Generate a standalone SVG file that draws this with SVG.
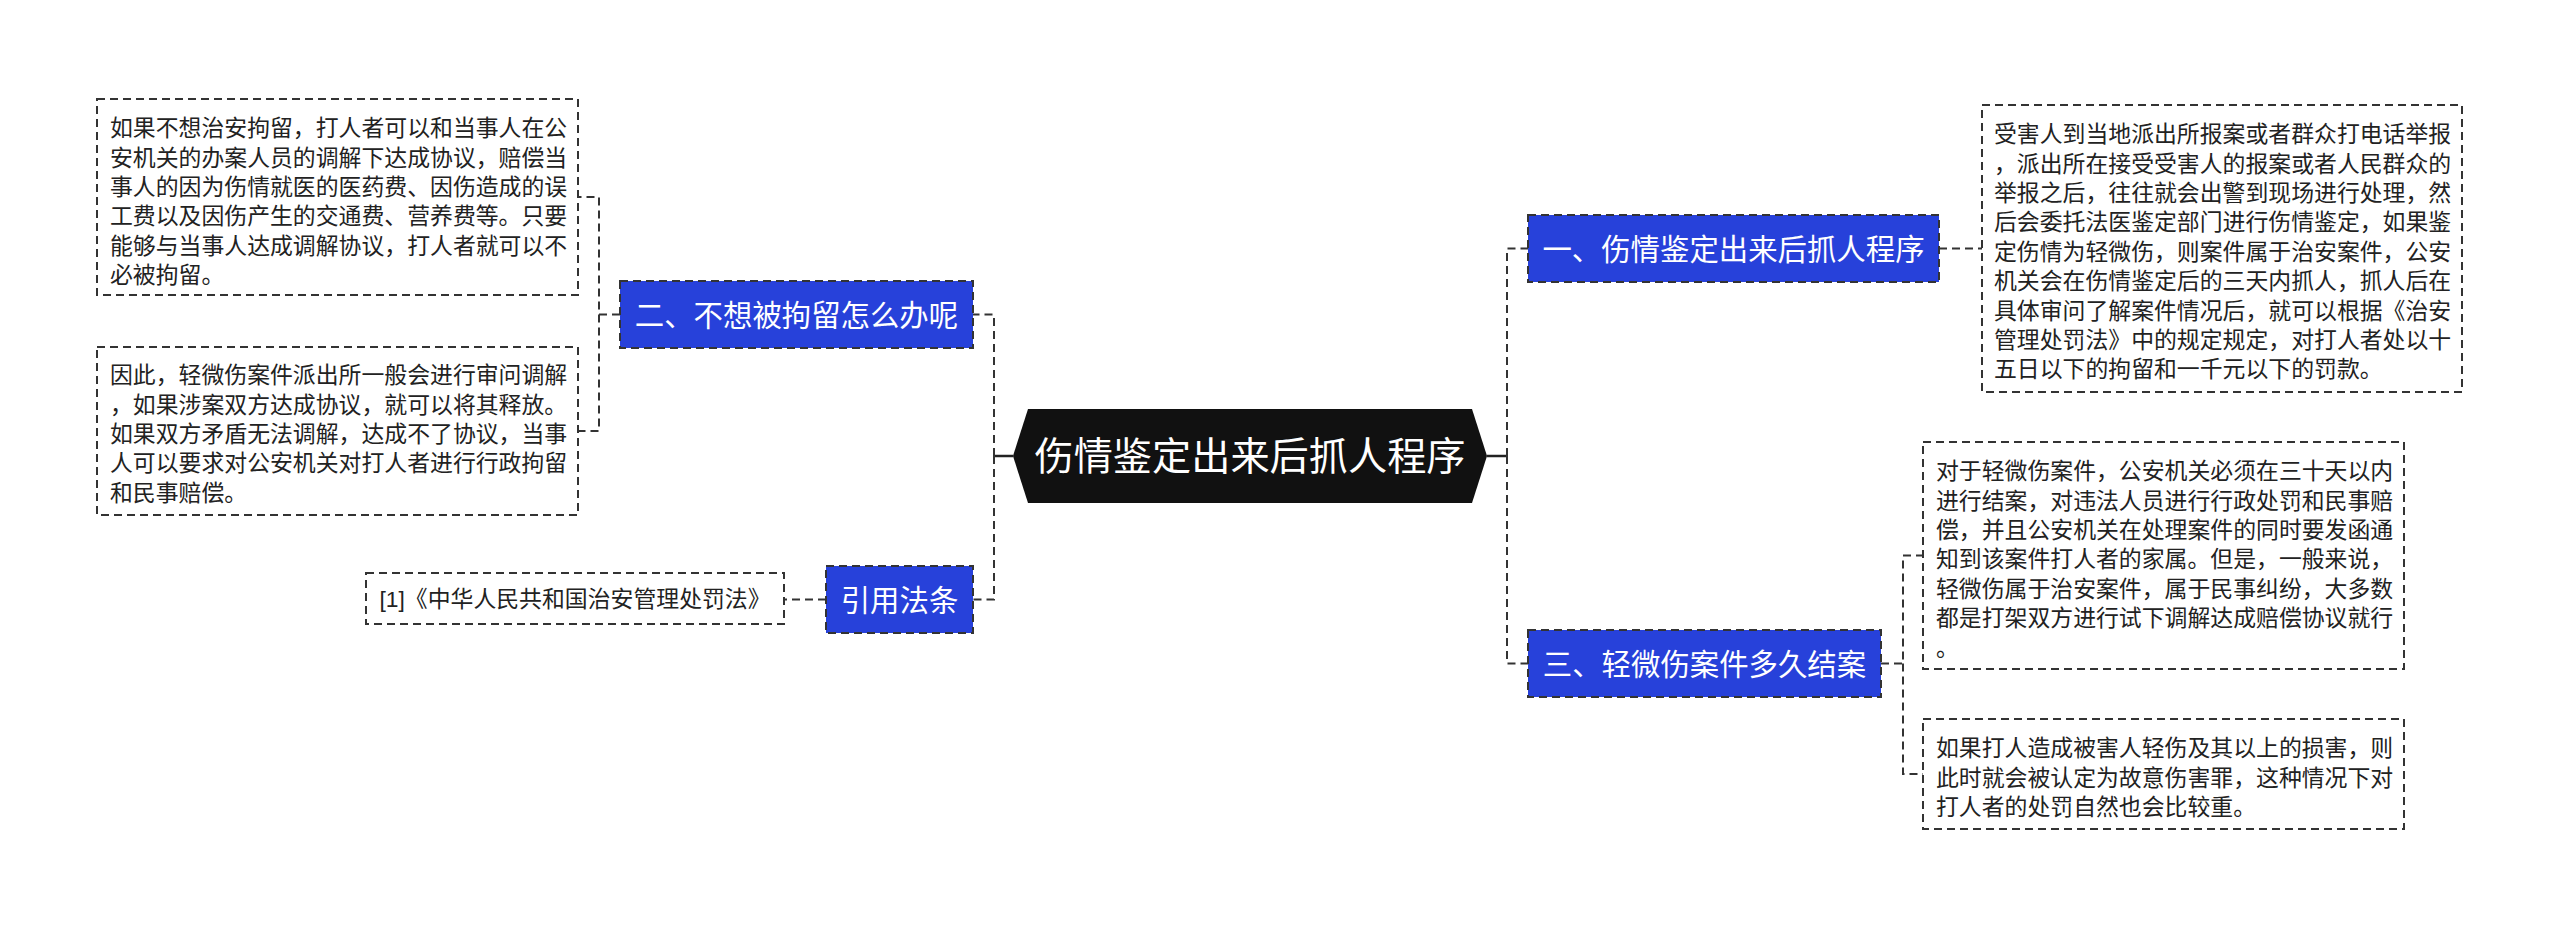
<svg xmlns="http://www.w3.org/2000/svg" width="2560" height="928" viewBox="0 0 2560 928">
<style>
text{font-family:"Liberation Sans","Noto Sans CJK SC",sans-serif;}
.conn{fill:none;stroke:#333;stroke-width:2;stroke-dasharray:8 5;}
.stub{fill:none;stroke:#222;stroke-width:2.5;}
.leaf{fill:#fff;stroke:#333;stroke-width:2;stroke-dasharray:8 5;}
.leaf-t{font-size:22.86px;fill:#222;}
.blue{fill:#2741DA;stroke:#333;stroke-width:2;stroke-dasharray:8 5;}
.blue-t{font-size:29.4px;fill:#fff;text-anchor:middle;}
.root-t{font-size:39.2px;fill:#fff;text-anchor:middle;}
</style>
<rect width="2560" height="928" fill="#fff"/>
<g id="connectors">
<line class="stub" x1="1013" y1="456" x2="994" y2="456"/>
<line class="stub" x1="1487" y1="456" x2="1507" y2="456"/>
<path class="conn" d="M994,456 V314.5 H973"/>
<path class="conn" d="M994,456 V599.5 H973"/>
<path class="conn" d="M1507,456 V248.5 H1528"/>
<path class="conn" d="M1507,456 V663.5 H1528"/>
<path class="conn" d="M620,314.5 H599 V197 H578"/>
<path class="conn" d="M599,314.5 V431 H578"/>
<path class="conn" d="M826,599.5 H784"/>
<path class="conn" d="M1939,248.5 H1982"/>
<path class="conn" d="M1881,663.5 H1903 V555.5 H1923"/>
<path class="conn" d="M1903,663.5 V774 H1923"/>
</g>
<g id="root">
<polygon points="1028,409 1472,409 1487,456 1472,503 1028,503 1013,456" fill="#111"/>
<text class="root-t" x="1250" y="470">伤情鉴定出来后抓人程序</text>
</g>
<g id="node-two">
<rect class="blue" x="620" y="281" width="353" height="67"/>
<text class="blue-t" x="796.5" y="325.5">二、不想被拘留怎么办呢</text>
</g>
<g id="node-two-a">
<rect class="leaf" x="97" y="99" width="481" height="196"/>
<text class="leaf-t" x="110" y="136.2">如果不想治安拘留，打人者可以和当事人在公</text>
<text class="leaf-t" x="110" y="165.6">安机关的办案人员的调解下达成协议，赔偿当</text>
<text class="leaf-t" x="110" y="195">事人的因为伤情就医的医药费、因伤造成的误</text>
<text class="leaf-t" x="110" y="224.4">工费以及因伤产生的交通费、营养费等。只要</text>
<text class="leaf-t" x="110" y="253.8">能够与当事人达成调解协议，打人者就可以不</text>
<text class="leaf-t" x="110" y="283.2">必被拘留。</text>
</g>
<g id="node-two-b">
<rect class="leaf" x="97" y="347" width="481" height="168"/>
<text class="leaf-t" x="110" y="383.2">因此，轻微伤案件派出所一般会进行审问调解</text>
<text class="leaf-t" x="110" y="412.6">，如果涉案双方达成协议，就可以将其释放。</text>
<text class="leaf-t" x="110" y="442">如果双方矛盾无法调解，达成不了协议，当事</text>
<text class="leaf-t" x="110" y="471.4">人可以要求对公安机关对打人者进行行政拘留</text>
<text class="leaf-t" x="110" y="500.8">和民事赔偿。</text>
</g>
<g id="node-law">
<rect class="blue" x="826" y="566" width="147" height="67"/>
<text class="blue-t" x="899.5" y="610.5">引用法条</text>
</g>
<g id="node-law-ref">
<rect class="leaf" x="366" y="573" width="418" height="51"/>
<text class="leaf-t" x="575" y="607" text-anchor="middle">[1]《中华人民共和国治安管理处罚法》</text>
</g>
<g id="node-one">
<rect class="blue" x="1528" y="215" width="411" height="67"/>
<text class="blue-t" x="1733.5" y="259.5">一、伤情鉴定出来后抓人程序</text>
</g>
<g id="node-one-a">
<rect class="leaf" x="1982" y="105" width="480" height="287"/>
<text class="leaf-t" x="1994" y="142.2">受害人到当地派出所报案或者群众打电话举报</text>
<text class="leaf-t" x="1994" y="171.6">，派出所在接受受害人的报案或者人民群众的</text>
<text class="leaf-t" x="1994" y="201">举报之后，往往就会出警到现场进行处理，然</text>
<text class="leaf-t" x="1994" y="230.4">后会委托法医鉴定部门进行伤情鉴定，如果鉴</text>
<text class="leaf-t" x="1994" y="259.8">定伤情为轻微伤，则案件属于治安案件，公安</text>
<text class="leaf-t" x="1994" y="289.2">机关会在伤情鉴定后的三天内抓人，抓人后在</text>
<text class="leaf-t" x="1994" y="318.6">具体审问了解案件情况后，就可以根据《治安</text>
<text class="leaf-t" x="1994" y="348">管理处罚法》中的规定规定，对打人者处以十</text>
<text class="leaf-t" x="1994" y="377.4">五日以下的拘留和一千元以下的罚款。</text>
</g>
<g id="node-three">
<rect class="blue" x="1528" y="630" width="353" height="67"/>
<text class="blue-t" x="1704.5" y="674.5">三、轻微伤案件多久结案</text>
</g>
<g id="node-three-a">
<rect class="leaf" x="1923" y="442" width="481" height="227"/>
<text class="leaf-t" x="1936" y="479.2">对于轻微伤案件，公安机关必须在三十天以内</text>
<text class="leaf-t" x="1936" y="508.6">进行结案，对违法人员进行行政处罚和民事赔</text>
<text class="leaf-t" x="1936" y="538">偿，并且公安机关在处理案件的同时要发函通</text>
<text class="leaf-t" x="1936" y="567.4">知到该案件打人者的家属。但是，一般来说，</text>
<text class="leaf-t" x="1936" y="596.8">轻微伤属于治安案件，属于民事纠纷，大多数</text>
<text class="leaf-t" x="1936" y="626.2">都是打架双方进行试下调解达成赔偿协议就行</text>
<text class="leaf-t" x="1936" y="655.6">。</text>
</g>
<g id="node-three-b">
<rect class="leaf" x="1923" y="719" width="481" height="110"/>
<text class="leaf-t" x="1936" y="756.2">如果打人造成被害人轻伤及其以上的损害，则</text>
<text class="leaf-t" x="1936" y="785.6">此时就会被认定为故意伤害罪，这种情况下对</text>
<text class="leaf-t" x="1936" y="815">打人者的处罚自然也会比较重。</text>
</g>
</svg>
